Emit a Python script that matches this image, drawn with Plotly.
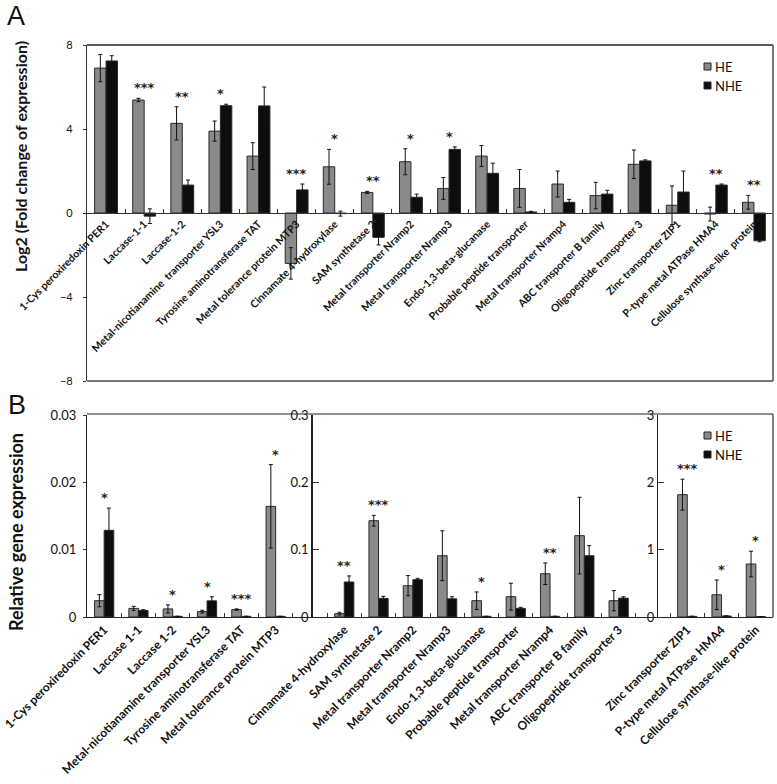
import plotly.graph_objects as go

W, H = 777, 784
def px(x): return x / W
def py(y): return 1 - y / H

FONT = "Lato"
HE_COLOR = "#8a8a8a"
NHE_COLOR = "#0d0d0d"

# ---------------- Panel A data (log2 fold change) ----------------
cats_A = ["1-Cys peroxiredoxin PER1", "Laccase-1-1", "Laccase-1-2",
          "Metal-nicotianamine  transporter YSL3", "Tyrosine aminotransferase TAT",
          "Metal tolerance protein MTP3", "Cinnamate 4-hydroxylase", "SAM synthetase 2",
          "Metal transporter Nramp2", "Metal transporter Nramp3", "Endo-1,3-beta-glucanase",
          "Probable peptide transporter", "Metal transporter Nramp4", "ABC transporter B family",
          "Oligopeptide transporter 3", "Zinc transporter ZIP1", "P-type metal ATPase HMA4",
          "Cellulose synthase-like  protein"]
he_A = [6.9, 5.38, 4.27, 3.9, 2.71, -2.4, 2.2, 0.98, 2.44, 1.17, 2.71, 1.17, 1.38, 0.83, 2.32, 0.37, -0.05, 0.51]
he_A_err = [0.65, 0.08, 0.79, 0.48, 0.64, 0.75, 0.83, 0.05, 0.62, 0.52, 0.5, 0.9, 0.62, 0.63, 0.68, 0.92, 0.33, 0.33]
nhe_A = [7.24, -0.15, 1.33, 5.11, 5.1, 1.1, -0.03, -1.16, 0.75, 3.03, 1.89, 0.05, 0.51, 0.9, 2.48, 1.0, 1.33, -1.32]
nhe_A_err = [0.25, 0.35, 0.24, 0.07, 0.9, 0.28, 0.12, 0.36, 0.15, 0.12, 0.48, 0.03, 0.14, 0.18, 0.05, 1.0, 0.05, 0.05]
sig_A = ["", "***", "**", "*", "", "***", "*", "**", "*", "*", "", "", "", "", "", "", "**", "**"]
ticks_A = [-8, -4, 0, 4, 8]

# ---------------- Panel B data (relative expression) ----------------
cats_B1 = ["1-Cys peroxiredoxin PER1", "Laccase 1-1", "Laccase 1-2",
           "Metal-nicotianamine transporter YSL3", "Tyrosine aminotransferase TAT",
           "Metal tolerance protein MTP3"]
he_B1 = [0.00242, 0.00128, 0.0012, 0.0008, 0.0011, 0.01643]
he_B1_err = [0.0009, 0.0003, 0.0006, 0.0002, 0.0001, 0.0062]
nhe_B1 = [0.01287, 0.00098, 0.0001, 0.0024, 0.0001, 0.0001]
nhe_B1_err = [0.0033, 0.0001, 0.0, 0.0006, 0.0, 0.0]
sig_B1 = ["*", "", "*", "*", "***", "*"]

cats_B2 = ["Cinnamate 4-hydroxylase", "SAM synthetase 2", "Metal transporter Nramp2",
           "Metal transporter Nramp3", "Endo-1,3-beta-glucanase", "Probable peptide transporter",
           "Metal transporter Nramp4", "ABC transporter B family", "Oligopeptide transporter 3"]
he_B2 = [0.005, 0.143, 0.0465, 0.091, 0.0242, 0.0302, 0.0643, 0.1208, 0.0242]
he_B2_err = [0.002, 0.008, 0.015, 0.037, 0.013, 0.02, 0.016, 0.057, 0.015]
nhe_B2 = [0.052, 0.0277, 0.0554, 0.027, 0.001, 0.0128, 0.001, 0.091, 0.028]
nhe_B2_err = [0.009, 0.003, 0.002, 0.003, 0.0, 0.0015, 0.0, 0.015, 0.002]
sig_B2 = ["**", "***", "", "", "*", "", "**", "", ""]

cats_B3 = ["Zinc transporter ZIP1", "P-type metal ATPase HMA4", "Cellulose synthase-like protein"]
he_B3 = [1.817, 0.33, 0.787]
he_B3_err = [0.23, 0.22, 0.19]
nhe_B3 = [0.01, 0.015, 0.005]
nhe_B3_err = [0.0, 0.0, 0.0]
sig_B3 = ["***", "*", "*"]

cats_B = cats_B1 + [" "] + cats_B2 + ["  "] + cats_B3
ticks_B1 = [0, 0.01, 0.02, 0.03]
ticks_B2 = [0, 0.1, 0.2, 0.3]
ticks_B3 = [0, 1, 2, 3]

fig = go.Figure()

def bars(x, y, err, color, offset, width, xa, ya):
    return go.Bar(x=x, y=y, width=width, offset=offset, xaxis=xa, yaxis=ya,
                  marker=dict(color=color, line=dict(color="#2a2a2a", width=1)),
                  error_y=dict(type="data", array=err, color="#111", thickness=1, width=2),
                  showlegend=False, hoverinfo="skip")

# Panel A
fig.add_trace(bars(cats_A, he_A, he_A_err, HE_COLOR, -0.3, 0.3, "x", "y"))
fig.add_trace(bars(cats_A, nhe_A, nhe_A_err, NHE_COLOR, 0.0, 0.3, "x", "y"))

# Panel B (category placeholder trace so blanks exist)
fig.add_trace(go.Scatter(x=cats_B, y=[0] * len(cats_B), mode="markers", marker=dict(opacity=0),
                         xaxis="x2", yaxis="y2", showlegend=False, hoverinfo="skip"))
for cats, he, hee, nhe, nhee, ya in [(cats_B1, he_B1, he_B1_err, nhe_B1, nhe_B1_err, "y2"),
                                     (cats_B2, he_B2, he_B2_err, nhe_B2, nhe_B2_err, "y3"),
                                     (cats_B3, he_B3, he_B3_err, nhe_B3, nhe_B3_err, "y4")]:
    fig.add_trace(bars(cats, he, hee, HE_COLOR, -0.28, 0.28, "x2", ya))
    fig.add_trace(bars(cats, nhe, nhee, NHE_COLOR, 0.0, 0.28, "x2", ya))

annotations = []
star_font = dict(family="DejaVu Sans", size=13, weight="bold", color="#222222")
for c, s, a, ae, b, be in zip(cats_A, sig_A, he_A, he_A_err, nhe_A, nhe_A_err):
    if s:
        top = max(a + ae, b + be, 0)
        annotations.append(dict(x=c, y=top, xref="x", yref="y", text=s, showarrow=False,
                                xanchor="center", yanchor="bottom", yshift=1, font=star_font))
for cats, sig, he, hee, nhe, nhee, yr in [(cats_B1, sig_B1, he_B1, he_B1_err, nhe_B1, nhe_B1_err, "y2"),
                                          (cats_B2, sig_B2, he_B2, he_B2_err, nhe_B2, nhe_B2_err, "y3"),
                                          (cats_B3, sig_B3, he_B3, he_B3_err, nhe_B3, nhe_B3_err, "y4")]:
    for c, s, a, ae, b, be in zip(cats, sig, he, hee, nhe, nhee):
        if s:
            top = max(a + ae, b + be, 0)
            annotations.append(dict(x=c, y=top, xref="x2", yref=yr, text=s, showarrow=False,
                                    xanchor="center", yanchor="bottom", yshift=1, font=star_font))

# titles and panel letters
def ptext(x, y, text, font, angle=0, xanchor="center"):
    return dict(x=px(x), y=py(y), xref="paper", yref="paper", text=text, textangle=angle,
                showarrow=False, xanchor=xanchor, yanchor="middle", font=font)

annotations += [
    ptext(20, 157, "Log2 (Fold change of expression)",
          dict(family=FONT, size=16, weight="bold", color="#111"), -90),
    ptext(16, 532, "Relative gene expression",
          dict(family=FONT, size=18, weight="bold", color="#111"), -90),
    ptext(16, 16, "A", dict(family="Liberation Sans", size=27, color="#111")),
    ptext(17, 405, "B", dict(family="Liberation Sans", size=27, color="#111")),
]

# legends (drawn)
shapes = []
for (sq_y, txt_y) in [((63, 70), 67), ((432, 439), 436)]:
    shapes.append(dict(type="rect", xref="paper", yref="paper", x0=px(704), x1=px(711),
                       y0=py(sq_y[0]), y1=py(sq_y[1]), fillcolor=HE_COLOR, line=dict(color="#222", width=1)))
    annotations.append(ptext(713, txt_y, "HE", dict(family=FONT, size=13, color="#111"), xanchor="left"))
    shapes.append(dict(type="rect", xref="paper", yref="paper", x0=px(704), x1=px(711),
                       y0=py(sq_y[0] + 19), y1=py(sq_y[1] + 19), fillcolor=NHE_COLOR, line=dict(color="#222", width=1)))
    annotations.append(ptext(713, txt_y + 19, "NHE", dict(family=FONT, size=13, color="#111"), xanchor="left"))

# frames
def line(x0, y0, x1, y1, color, w):
    return dict(type="line", xref="paper", yref="paper", x0=px(x0), y0=py(y0), x1=px(x1), y1=py(y1),
                line=dict(color=color, width=w))
shapes += [line(87, 45, 773, 45, "#222", 1.5), line(773, 45, 773, 381, "#777", 2),
           line(87, 381, 773, 381, "#777", 2),
           line(87, 414, 773, 414, "#222", 1.2), line(773, 414, 773, 617, "#333", 1.2)]

tickfont_y = dict(family=FONT, size=13, color="#111")
fig.update_layout(
    width=W, height=H, autosize=False, margin=dict(l=0, r=0, t=0, b=0, pad=0),
    paper_bgcolor="white", plot_bgcolor="white",
    font=dict(family=FONT, color="#111"),
    showlegend=False,
    xaxis=dict(domain=[px(87), px(773)], anchor="free", position=py(213), type="category",
               categoryorder="array", categoryarray=cats_A, range=[-0.5, len(cats_A) - 0.5],
               showline=True, linecolor="#333", linewidth=1, ticks="inside", tickson="boundaries",
               ticklen=4, tickcolor="#333", tickangle=-45, showgrid=False, automargin=False,
               tickfont=dict(family=FONT, size=10.5, weight="bold", color="#111")),
    yaxis=dict(domain=[py(381), py(45)], anchor="x", range=[-8, 8], tickvals=ticks_A,
               showline=True, linecolor="#333", linewidth=1.2, ticks="outside", ticklen=3,
               tickcolor="#333", showgrid=False, zeroline=False, ticklabelstandoff=8, automargin=False,
               tickfont=dict(family=FONT, size=11, color="#111")),
    xaxis2=dict(domain=[px(87), px(773)], anchor="y2", type="category",
                categoryorder="array", categoryarray=cats_B, range=[-0.5, len(cats_B) - 0.5],
                showline=True, linecolor="#222", linewidth=1.2, ticks="inside", tickson="boundaries",
                ticklen=4, tickcolor="#333", tickangle=-45, showgrid=False, automargin=False,
                tickfont=dict(family=FONT, size=12, weight="bold", color="#111")),
    yaxis2=dict(domain=[py(617), py(415)], anchor="x2", range=[0, 0.03], tickvals=ticks_B1,
                showline=True, linecolor="#222", linewidth=1.2, ticks="outside", ticklen=3,
                tickcolor="#333", showgrid=False, zeroline=False, ticklabelstandoff=4, automargin=False,
                tickfont=tickfont_y),
    yaxis3=dict(overlaying="y2", anchor="free", position=px(312), range=[0, 0.3], tickvals=ticks_B2,
                showline=True, linecolor="#222", linewidth=1.5, ticks="inside", ticklen=6,
                tickcolor="#333", showgrid=False, zeroline=False, automargin=False, tickfont=tickfont_y),
    yaxis4=dict(overlaying="y2", anchor="free", position=px(657), range=[0, 3], tickvals=ticks_B3,
                showline=True, linecolor="#222", linewidth=1.2, ticks="inside", ticklen=6,
                tickcolor="#333", showgrid=False, zeroline=False, automargin=False, tickfont=tickfont_y),
    annotations=annotations, shapes=shapes,
)

fig.write_html("out.html", config={"displayModeBar": False},
               post_script="document.body.style.margin='0';document.body.style.overflow='hidden';")
